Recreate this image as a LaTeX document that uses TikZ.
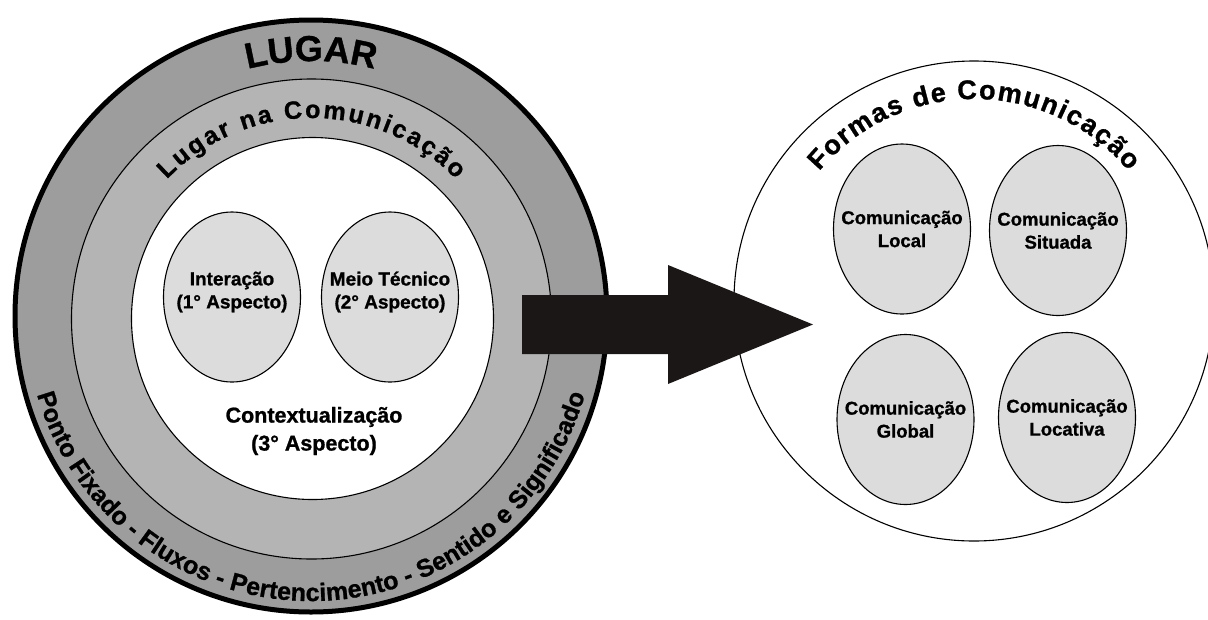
\documentclass[tikz,border=0pt]{standalone}
\usepackage{fontspec}
\setmainfont{Liberation Sans}[BoldFeatures={FakeBold=1}]
\usetikzlibrary{shapes.geometric,decorations.text}

\definecolor{ringdark}{HTML}{9D9D9D}
\definecolor{ringlight}{HTML}{B4B4B4}
\definecolor{bubblegray}{HTML}{DCDCDC}
\definecolor{arrowblack}{HTML}{1C1717}

\begin{document}
\begin{tikzpicture}[x=1pt,y=1pt,
  disc/.style={circle, draw=black, inner sep=0pt, outer sep=0pt},
  bubble/.style={ellipse, draw=black, line width=1.1pt, fill=bubblegray,
    inner sep=0pt, minimum width=137pt, minimum height=170pt},
  smalltext/.style={font=\bfseries\fontsize{19}{23}\selectfont, align=center},
  formtext/.style={font=\bfseries\fontsize{18.5}{23}\selectfont, align=center}
]
\useasboundingbox (0,0) rectangle (1208,-619);

% concentric rings of the place diagram
\node[disc, fill=ringdark, line width=5pt, minimum size=592pt] (lugar) at (311,-316) {};
\node[disc, fill=ringlight, line width=1.1pt, minimum size=480pt] (comm) at (311.5,-319) {};
\node[disc, fill=white, line width=1.1pt, minimum size=362pt] (ctx) at (312.5,-318.5) {};

% the two aspects inside the inner disc
\node[bubble, label={[smalltext, yshift=5pt]center:Interação\\(1° Aspecto)}] (inter) at (232,-297) {};
\node[bubble, label={[smalltext, yshift=5pt]center:Meio Técnico\\(2° Aspecto)}] (meio) at (390,-297) {};
\node[font=\bfseries\fontsize{21.5}{28}\selectfont, align=center] (ctxlabel) at (314,-431)
  {Contextualização\\(3° Aspecto)};

% curved titles of the rings
\path[decorate, decoration={text along path, text align=center,
  text={|\bfseries\fontsize{36}{40}\selectfont|LUGAR}}]
  ([shift={(112:255)}]lugar.center) arc[start angle=112, end angle=68, radius=255];
\path[decorate, decoration={text along path, text align=fit to path,
  text={|\bfseries\fontsize{25}{28}\selectfont|Lugar na Comunicação}}]
  ([shift={(136:201)}]comm.center) arc[start angle=136, end angle=44, radius=201];
\path[decorate, decoration={text along path, text align=fit to path,
  text={|\bfseries\fontsize{25}{28}\selectfont|Ponto Fixado - Fluxos - Pertencimento - Sentido e Significado}}]
  ([shift={(196:285)}]lugar.center) arc[start angle=196, end angle=344, radius=285];

% forms of communication
\node[disc, fill=white, line width=1.1pt, minimum size=480pt] (formas) at (974,-301) {};
\path[decorate, decoration={text along path, text align=fit to path,
  text={|\bfseries\fontsize{27}{30}\selectfont|Formas de Comunicação}}]
  ([shift={(140:202)}]formas.center) arc[start angle=140, end angle=40, radius=202];

\node[bubble, label={[formtext]center:Comunicação\\Local}] (local) at (902,-229) {};
\node[bubble, label={[formtext]center:Comunicação\\Situada}] (situada) at (1058,-230.5) {};
\node[bubble, label={[formtext]center:Comunicação\\Global}] (global) at (905.5,-419.5) {};
\node[bubble, label={[formtext]center:Comunicação\\Locativa}] (locativa) at (1067,-417.5) {};

% block arrow from the place rings to the forms circle
\coordinate (tail) at (522,-324.5);
\coordinate (tip) at (813,-324.5);
\fill[arrowblack] (tail) ++(0,29.5) -- (668,-295) -- (668,-265) -- (tip)
  -- (668,-384) -- (668,-354) -- ([yshift=-29.5pt]tail) -- cycle;
\end{tikzpicture}
\end{document}
